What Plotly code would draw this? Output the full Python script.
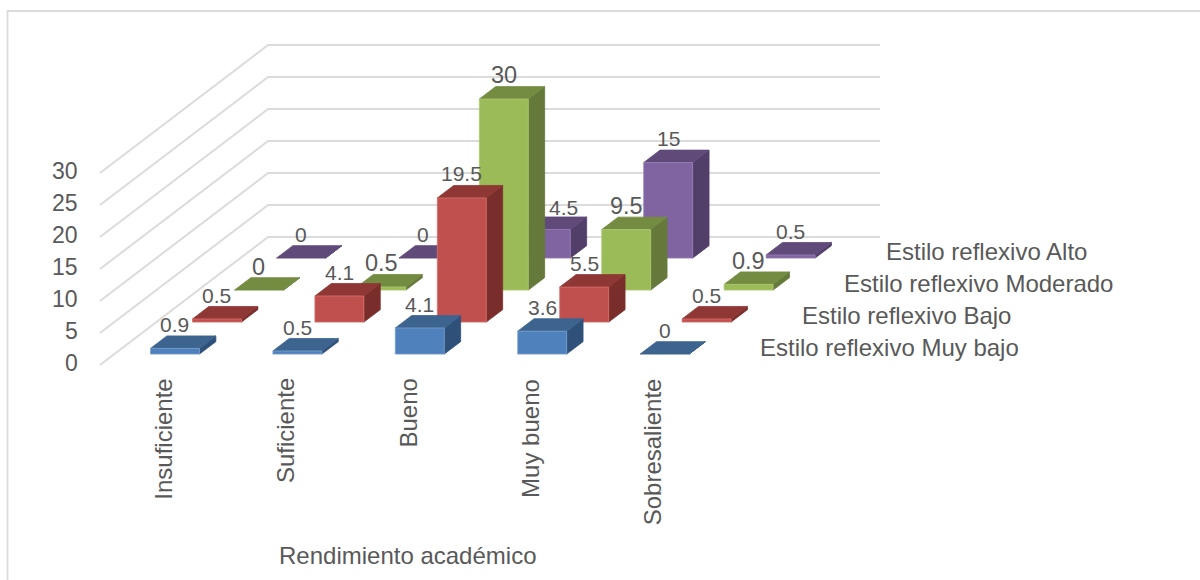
import plotly.graph_objects as go

categories = ["Insuficiente", "Suficiente", "Bueno", "Muy bueno", "Sobresaliente"]
series_names = ["Estilo reflexivo Muy bajo", "Estilo reflexivo Bajo", "Estilo reflexivo Moderado", "Estilo reflexivo Alto"]
muy_bajo = [0.9, 0.5, 4.1, 3.6, 0]
bajo = [0.5, 4.1, 19.5, 5.5, 0.5]
moderado = [0, 0.5, 30, 9.5, 0.9]
alto = [0, 0, 4.5, 15, 0.5]
z_ticks = [0, 5, 10, 15, 20, 25, 30]

values = [muy_bajo, bajo, moderado, alto]
front_c = ["#4F81BD", "#C0504D", "#9BBB59", "#8064A2"]
edge_c = ["#7BA0D0", "#D8726E", "#B0CC72", "#9A82BA"]
top_c = ["#3C648F", "#8F3735", "#748C42", "#5F4A79"]
side_c = ["#2F5179", "#7A2E2C", "#64793A", "#523F69"]
TEXT = "#595959"
GRID = "#DBDBDB"

# oblique projection: u = category axis, v = series axis, z = value axis
X0, Y0, DU, DV_X, DV_Y, DZ = 100.0, 365.0, 122.4, 42.0, 32.0, 6.4
BAR_Z = 0.995
def px(u, v):
    return X0 + DU * u + DV_X * v
def py(v, z):
    return Y0 - DV_Y * v - DZ * z
def pt(u, v, z):
    return px(u, v), py(v, z)

BAR_U0, BAR_U1 = 0.296, 0.696
BAR_V0, BAR_V1 = 0.34, 0.73

fig = go.Figure()

def poly(points, fill, line, name, lw=0.8):
    xs = [p[0] for p in points] + [points[0][0]]
    ys = [p[1] for p in points] + [points[0][1]]
    fig.add_trace(go.Scatter(x=xs, y=ys, mode="lines", fill="toself", fillcolor=fill,
                             line=dict(color=line, width=lw), name=name,
                             hoverinfo="skip", showlegend=False))

def seg(points, color=GRID, w=2):
    fig.add_trace(go.Scatter(x=[p[0] for p in points], y=[p[1] for p in points], mode="lines",
                             line=dict(color=color, width=w), hoverinfo="skip", showlegend=False))

# frame
seg([(7.5, 580), (7.5, 11), (1200, 11)], GRID, 1.8)

# walls
for t in z_ticks:
    seg([pt(0, 0, t), pt(0, 4, t), pt(5, 4, t)], GRID, 2)

annotations = []
def label(x, y, text, size, **kw):
    annotations.append(dict(x=x, y=y, text=text, showarrow=False, xref="x", yref="y",
                            font=dict(family="Liberation Sans, Arial, sans-serif", size=size, color=TEXT),
                            xanchor=kw.pop("xanchor", "center"), yanchor=kw.pop("yanchor", "middle"), **kw))

# bars, far series first
for k in range(3, -1, -1):
    for i, val in enumerate(values[k]):
        u0, u1 = i + BAR_U0, i + BAR_U1
        v0, v1 = k + BAR_V0, k + BAR_V1
        h = val * BAR_Z
        name = f"{series_names[k]} / {categories[i]}"
        poly([pt(u1, v0, 0), pt(u1, v1, 0), pt(u1, v1, h), pt(u1, v0, h)], side_c[k], side_c[k], name + " side")
        poly([pt(u0, v0, h), pt(u1, v0, h), pt(u1, v1, h), pt(u0, v1, h)], top_c[k], top_c[k], name + " top")
        if val > 0:
            poly([pt(u0, v0, 0), pt(u1, v0, 0), pt(u1, v0, h), pt(u0, v0, h)], front_c[k], edge_c[k], name + " front")

# data labels (the Moderado series is set larger in the reference)
moved = {(3, 2): (17.5, 2)}
for k in range(4):
    for i, val in enumerate(values[k]):
        dx, dy = moved.get((k, i), (0, 0))
        x = px(i + (BAR_U0 + BAR_U1) / 2, k + BAR_V0) + dx
        y = py(k + BAR_V0, val) - 23.5 + dy
        label(x, y, f"{val:g}", 23.5 if k == 2 else 21)

# value axis labels
for t in z_ticks:
    label(80, py(0, t) - 2, str(t), 23, xanchor="right")

# category labels
for i, c in enumerate(categories):
    label(px(i + 0.5, 0) + 1.5, 376.5, c, 24, textangle=-90, yanchor="top")

# series labels
for k, s in enumerate(series_names):
    label(px(5, k + 0.5) + 25, py(k + 0.5, 0) - 1.5, s, 24, xanchor="left")

label(407.5, 555, "Rendimiento académico", 24)

fig.update_layout(
    width=1200, height=580, autosize=False,
    margin=dict(l=0, r=0, t=0, b=0),
    paper_bgcolor="white", plot_bgcolor="white",
    xaxis=dict(range=[0, 1200], visible=False, fixedrange=True),
    yaxis=dict(range=[580, 0], visible=False, fixedrange=True),
    showlegend=False,
    annotations=annotations,
)
fig.write_html("out.html", config={"displayModeBar": False},
               post_script="document.body.style.margin='0';document.body.style.overflow='hidden';")
